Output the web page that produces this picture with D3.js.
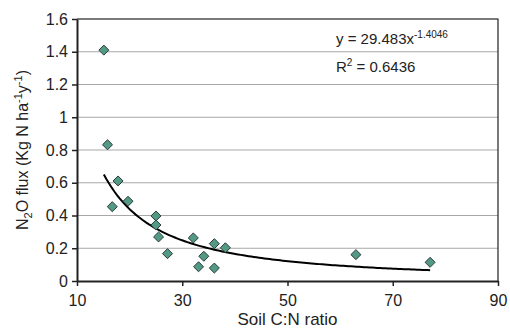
<!DOCTYPE html>
<html>
<head>
<meta charset="utf-8">
<script src="https://cdn.jsdelivr.net/npm/d3@7"></script>
<style>
  body { margin: 0; background: #fff; }
  text { font-family: "Liberation Sans", Arial, sans-serif; fill: #222; }
</style>
</head>
<body>
<div id="chart"></div>
<script>
// data
const soilCN = [15.1, 15.8, 17.8, 16.7, 19.7, 25.0, 25.0, 25.5, 27.2, 32.1, 33.1, 34.1, 36.1, 36.1, 38.2, 63.0, 77.1];
const n2oFlux = [1.41, 0.832, 0.611, 0.454, 0.487, 0.397, 0.342, 0.269, 0.167, 0.263, 0.087, 0.151, 0.228, 0.079, 0.203, 0.161, 0.114];
const xTicks = [10, 30, 50, 70, 90];
const yTicks = [0, 0.2, 0.4, 0.6, 0.8, 1, 1.2, 1.4, 1.6];
// power trend line y = a * x^b
const fitA = 29.483, fitB = -1.4046;

const width = 510, height = 328;
const margin = { top: 19, right: 12, bottom: 47, left: 77 };

const svg = d3.select("#chart").append("svg")
  .attr("width", width)
  .attr("height", height);

const x = d3.scaleLinear().domain([10, 90]).range([margin.left, width - margin.right]);
const y = d3.scaleLinear().domain([0, 1.6]).range([height - margin.bottom, margin.top]);

// gridlines
svg.append("g")
  .selectAll("line")
  .data(yTicks.slice(1))
  .enter().append("line")
  .attr("x1", x(10)).attr("x2", x(90))
  .attr("y1", d => y(d)).attr("y2", d => y(d))
  .attr("stroke", "#a8a8a8")
  .attr("stroke-width", 1);

// plot border (top + right)
svg.append("path")
  .attr("d", `M${x(10)},${y(1.6)}H${x(90)}V${y(0)}`)
  .attr("fill", "none")
  .attr("stroke", "#222")
  .attr("stroke-width", 1.2);

// axes
const xAxis = svg.append("g")
  .attr("transform", `translate(0,${y(0)})`)
  .call(d3.axisBottom(x).tickValues(xTicks).tickSize(5).tickSizeOuter(0).tickPadding(9));
const yAxis = svg.append("g")
  .attr("transform", `translate(${x(10)},0)`)
  .call(d3.axisLeft(y).tickValues(yTicks).tickSize(5).tickSizeOuter(0).tickPadding(4)
    .tickFormat(d => d3.format("")(+d.toFixed(1))));

[xAxis, yAxis].forEach(g => {
  g.select(".domain").attr("stroke", "#222").attr("stroke-width", 2);
  g.selectAll(".tick line").attr("stroke", "#222").attr("stroke-width", 1.5);
  g.selectAll(".tick text")
    .style("font-family", "Liberation Sans, Arial, sans-serif")
    .style("font-size", "16px")
    .attr("fill", "#222");
});

// trend line
const lo = d3.min(soilCN), hi = d3.max(soilCN);
const fitPts = d3.range(lo, hi + 0.01, 0.5).map(v => [v, fitA * Math.pow(v, fitB)]);
svg.append("path")
  .datum(fitPts)
  .attr("d", d3.line().x(d => x(d[0])).y(d => y(d[1])))
  .attr("fill", "none")
  .attr("stroke", "#000")
  .attr("stroke-width", 2);

// diamonds
svg.append("g")
  .selectAll("path")
  .data(soilCN.map((v, i) => [v, n2oFlux[i]]))
  .enter().append("path")
  .attr("d", d3.symbol(d3.symbolDiamond2, 64))
  .attr("transform", d => `translate(${x(d[0])},${y(d[1])})`)
  .attr("fill", "#529a86")
  .attr("stroke", "#2b3b36")
  .attr("stroke-width", 1);

// axis titles
svg.append("text")
  .attr("x", (x(10) + x(90)) / 2)
  .attr("y", 325)
  .attr("text-anchor", "middle")
  .style("font-size", "17px")
  .text("Soil C:N ratio");

const yt = svg.append("text")
  .attr("transform", `translate(28,${(y(0) + y(1.6)) / 2}) rotate(-90)`)
  .attr("text-anchor", "middle")
  .style("font-size", "16px");
yt.append("tspan").text("N");
yt.append("tspan").attr("dy", 4).style("font-size", "11px").text("2");
yt.append("tspan").attr("dy", -4).text("O flux (Kg N ha");
yt.append("tspan").attr("dy", -6).style("font-size", "11px").text("-1");
yt.append("tspan").attr("dy", 6).text("y");
yt.append("tspan").attr("dy", -6).style("font-size", "11px").text("-1");
yt.append("tspan").attr("dy", 6).text(")");

// equation
const eq = svg.append("text")
  .attr("x", 336).attr("y", 44)
  .style("font-size", "15px");
eq.append("tspan").text("y = 29.483x");
eq.append("tspan").attr("dy", -6).style("font-size", "10px").text("-1.4046");

const r2 = svg.append("text")
  .attr("x", 336).attr("y", 72)
  .style("font-size", "15px");
r2.append("tspan").text("R");
r2.append("tspan").attr("dy", -6).style("font-size", "10px").text("2");
r2.append("tspan").attr("dy", 6).text(" = 0.6436");
</script>
</body>
</html>
